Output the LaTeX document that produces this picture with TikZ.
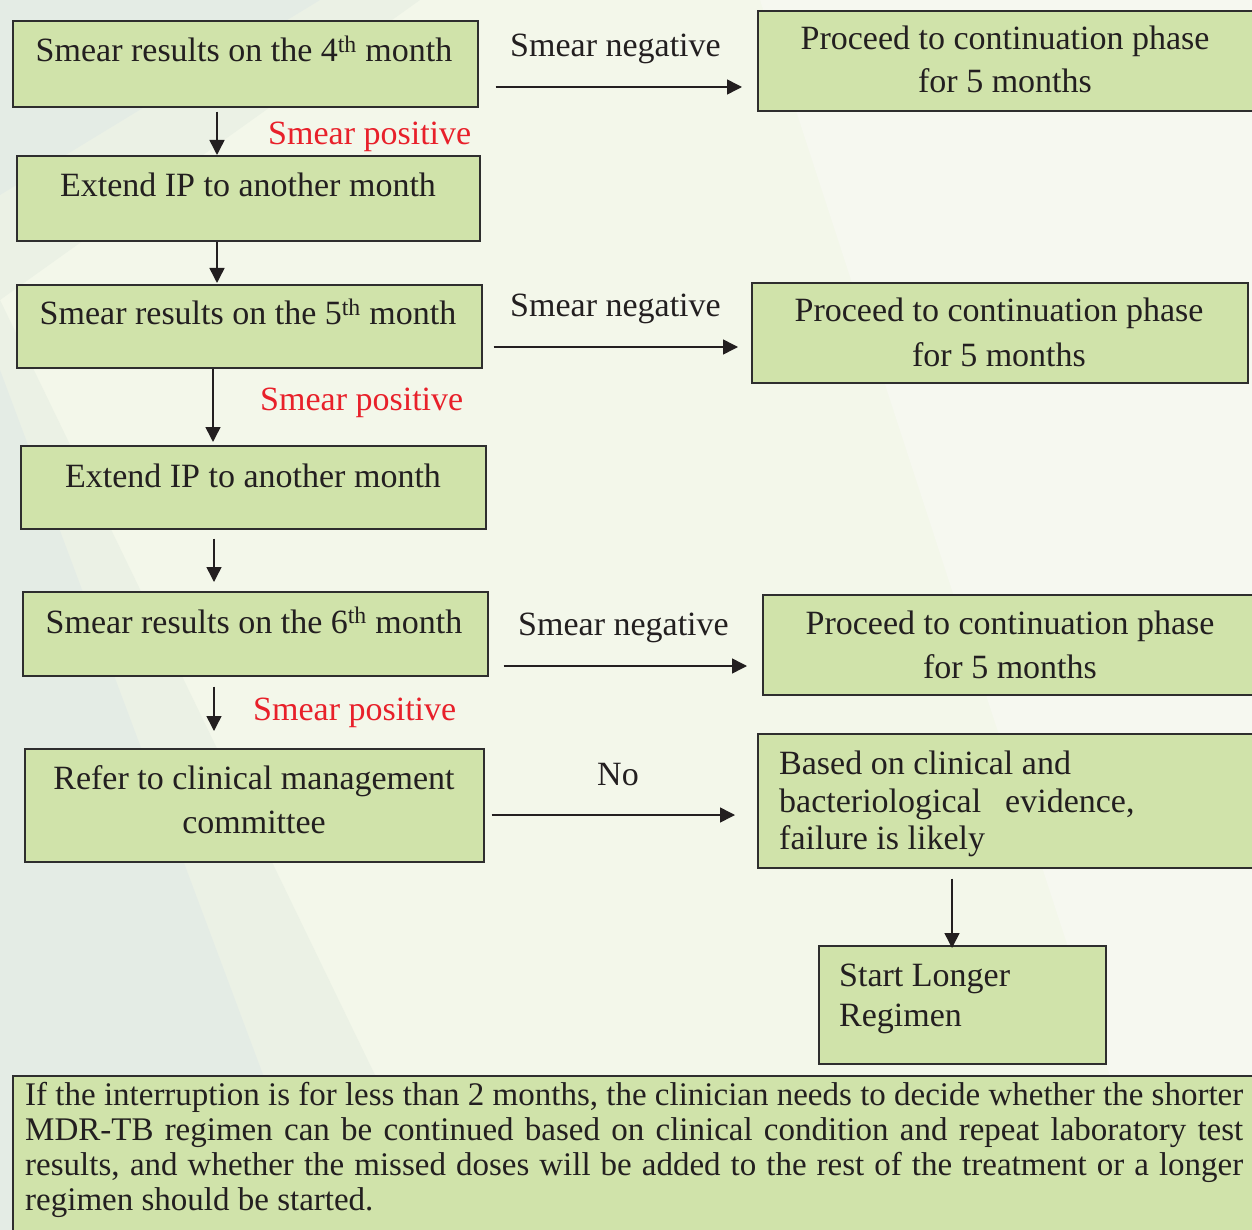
\documentclass[tikz,border=0pt]{standalone}
\usepackage{fontspec}
\setmainfont{Liberation Serif}
\usetikzlibrary{arrows.meta}

\definecolor{boxfill}{HTML}{D0E3AA}
\definecolor{boxline}{HTML}{2E2E2E}
\definecolor{inkdark}{HTML}{231F20}
\definecolor{posred}{HTML}{E8202A}
\definecolor{bgbase}{HTML}{F3F7EA}
\definecolor{bglight}{HTML}{F6F8F0}
\definecolor{bgshade}{HTML}{E4ECE5}
\definecolor{bgmid}{HTML}{EBF1E5}

\tikzset{
  box/.style={draw=boxline, line width=1.6pt, fill=boxfill, inner sep=0pt, anchor=north west},
  txt/.style={font=\fontsize{34}{44}\selectfont, text=inkdark, inner sep=0pt, anchor=base},
  txtl/.style={txt, anchor=base west},
  poslbl/.style={txtl, text=posred},
  flow/.style={draw=inkdark, line width=1.5pt, -{Triangle[length=15pt,width=15pt]}},
}

\begin{document}
\begin{tikzpicture}[x=1pt,y=-1pt]
  % page and background
  \useasboundingbox (0,0) rectangle (1252,1230);
  \fill[bgbase] (0,0) rectangle (1252,1230);
  \fill[bglight] (760,0) -- (1252,0) -- (1252,1230) -- (1160,1230) -- cycle;
  \fill[bgmid] (0,0) -- (420,0) -- (0,300) -- cycle;
  \fill[bgshade] (0,0) -- (320,0) -- (0,195) -- cycle;
  \fill[bgmid] (0,300) -- (450,1230) -- (0,1230) -- cycle;
  \fill[bgshade] (0,370) -- (321,1230) -- (0,1230) -- cycle;

  % arrow columns and rows
  \coordinate (cola) at (217,0);
  \coordinate (colb) at (213,0);
  \coordinate (colc) at (214,0);
  \coordinate (cold) at (952,0);
  \coordinate (rowa) at (0,87);
  \coordinate (rowb) at (0,347);
  \coordinate (rowc) at (0,666);
  \coordinate (rowd) at (0,815);

  % left column
  \node[box, minimum width=465pt, minimum height=86pt] (a1) at (12,20) {};
  \node[box, minimum width=463pt, minimum height=85pt] (e1) at (16,155) {};
  \node[box, minimum width=465pt, minimum height=83pt] (a2) at (16,284) {};
  \node[box, minimum width=465pt, minimum height=83pt] (e2) at (20,445) {};
  \node[box, minimum width=465pt, minimum height=84pt] (a3) at (22,591) {};
  \node[box, minimum width=459pt, minimum height=113pt] (rf) at (24,748) {};

  % right column
  \node[box, minimum width=500pt, minimum height=100pt] (p1) at (757,10) {};
  \node[box, minimum width=496pt, minimum height=100pt] (p2) at (751,282) {};
  \node[box, minimum width=495pt, minimum height=100pt] (p3) at (762,594) {};
  \node[box, minimum width=500pt, minimum height=134pt] (bd) at (757,733) {};
  \node[box, minimum width=287pt, minimum height=118pt] (sl) at (818,945) {};

  % note
  \node[box, minimum width=1245pt, minimum height=160pt] (nt) at (12,1075) {};

  % box texts
  \node[txt] (a1t) at (244,62) {Smear results on the 4\textsuperscript{th} month};
  \node[txt] (e1t) at (248,197) {Extend IP to another month};
  \node[txt] (a2t) at (248,325) {Smear results on the 5\textsuperscript{th} month};
  \node[txt] (e2t) at (253,487) {Extend IP to another month};
  \node[txt] (a3t) at (254,633) {Smear results on the 6\textsuperscript{th} month};
  \node[txt] (rft1) at (254,789) {Refer to clinical management};
  \node[txt] (rft2) at (254,833) {committee};

  \node[txt] (p1t1) at (1005,50) {Proceed to continuation phase};
  \node[txt] (p1t2) at (1005,93) {for 5 months};
  \node[txt] (p2t1) at (999,322) {Proceed to continuation phase};
  \node[txt] (p2t2) at (999,366) {for 5 months};
  \node[txt] (p3t1) at (1010,634) {Proceed to continuation phase};
  \node[txt] (p3t2) at (1010,678) {for 5 months};

  \node[txtl] (bdt1) at (779,774) {Based on clinical and};
  \node[txtl] (bdt2) at (779,812) {bacteriological\hspace{24pt}evidence,};
  \node[txtl] (bdt3) at (779,849) {failure is likely};
  \node[txtl] (slt1) at (839,986) {Start Longer};
  \node[txtl] (slt2) at (839,1026) {Regimen};

  \node[txt, anchor=north west, align=justify, text width=1218pt,
        font=\fontsize{33}{35}\selectfont] (ntt) at (25,1082)
    {If the interruption is for less than 2 months, the clinician needs to decide whether the shorter\linebreak
     MDR-TB regimen can be continued based on clinical condition and repeat laboratory test\linebreak
     results, and whether the missed doses will be added to the rest of the treatment or a longer\linebreak
     regimen should be started.};

  % connector labels
  \node[poslbl] (sp1) at (268,145) {Smear positive};
  \node[poslbl] (sp2) at (260,410) {Smear positive};
  \node[poslbl] (sp3) at (253,720) {Smear positive};
  \node[txtl] (sn1) at (510,57) {Smear negative};
  \node[txtl] (sn2) at (510,317) {Smear negative};
  \node[txtl] (sn3) at (518,635) {Smear negative};
  \node[txt] (no) at (618,785) {No};

  % connectors
  \draw[flow] ([yshift=-4pt]a1.south -| cola) -- (e1.north -| cola);
  \draw[flow] (e1.south -| cola) -- ([yshift=1pt]a2.north -| cola);
  \draw[flow] (a2.south -| colb) -- ([yshift=3pt]e2.north -| colb);
  \draw[flow] ([yshift=-9pt]e2.south -| colc) -- ([yshift=9pt]a3.north -| colc);
  \draw[flow] ([yshift=-10pt]a3.south -| colc) -- ([yshift=17pt]rf.north -| colc);
  \draw[flow] ([yshift=-10pt]bd.south -| cold) -- ([yshift=-3pt]sl.north -| cold);

  \draw[flow] ([xshift=17pt]a1.east |- rowa) -- ([xshift=-15pt]p1.west |- rowa);
  \draw[flow] ([xshift=11pt]a2.east |- rowb) -- ([xshift=-13pt]p2.west |- rowb);
  \draw[flow] ([xshift=15pt]a3.east |- rowc) -- ([xshift=-15pt]p3.west |- rowc);
  \draw[flow] ([xshift=7pt]rf.east |- rowd) -- ([xshift=-22pt]bd.west |- rowd);
\end{tikzpicture}
\end{document}
